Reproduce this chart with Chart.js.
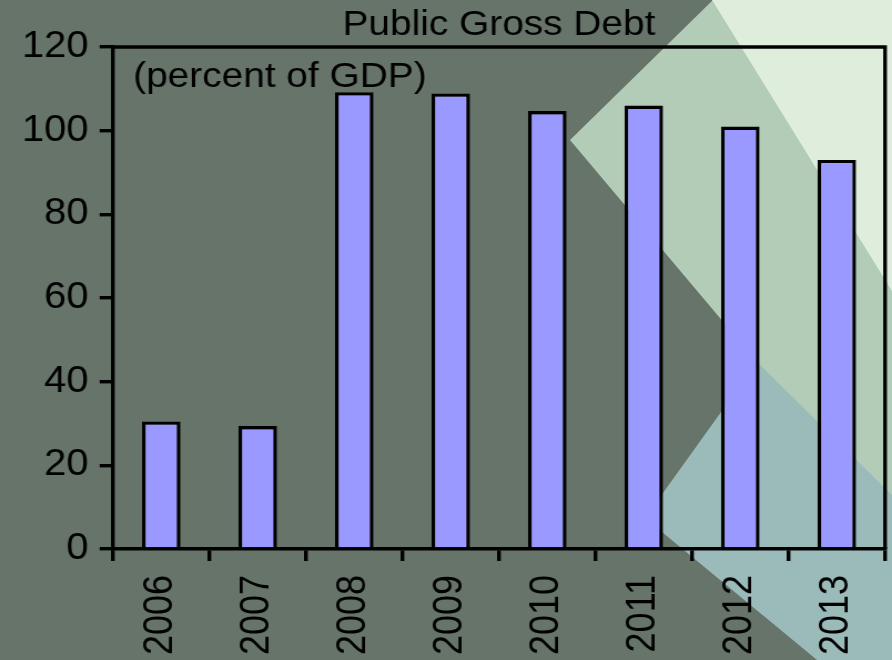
<!DOCTYPE html>
<html>
<head>
<meta charset="utf-8">
<title>Public Gross Debt</title>
<script src="https://cdn.jsdelivr.net/npm/chart.js@4.4.1/dist/chart.umd.min.js"></script>
<style>
    html, body { margin: 0; padding: 0; }
    body { width: 892px; height: 660px; overflow: hidden; position: relative; background: #66746a; }
    #bg { position: absolute; left: 0; top: 0; }
    /* chart is laid out narrower, then widened to the full page */
    .chart-wrap { position: absolute; left: 0; top: 0; width: 804px; height: 660px; transform: scaleX(1.1095); transform-origin: 0 0; }
</style>
</head>
<body>
<svg id="bg" width="892" height="660">
    <rect x="0" y="0" width="892" height="660" fill="#66746a"/>
    <polygon points="713,0 892,0 892,560 757,362 570,140" fill="#b3ccb8"/>
    <polygon points="712,0 892,0 892,291" fill="#dfeddd"/>
    <polygon points="757,362 892,495 892,660 817,660 645,518" fill="#9bbaba"/>
</svg>
<div class="chart-wrap"><canvas id="debtChart"></canvas></div>

<script>
const years = ['2006', '2007', '2008', '2009', '2010', '2011', '2012', '2013'];
const debtPct = [30.5, 29.4, 109.2, 108.9, 104.7, 106.0, 101.0, 93.0];
const yMin = 0;
const yMax = 120;
const yStep = 20;

const FONT = 'Liberation Sans, Arial, sans-serif';
const LINE_W = 3.4;

// box around the plot + the units note in its top-left corner
const framePlugin = {
    id: 'frame',
    afterDraw(chart) {
        const { ctx, chartArea } = chart;
        ctx.save();
        ctx.strokeStyle = '#000';
        ctx.lineWidth = LINE_W;
        ctx.beginPath();
        ctx.moveTo(chartArea.left, chartArea.top);
        ctx.lineTo(chartArea.right, chartArea.top);
        ctx.lineTo(chartArea.right, chartArea.bottom);
        ctx.stroke();

        ctx.fillStyle = '#000';
        ctx.font = '35px ' + FONT;
        ctx.textBaseline = 'alphabetic';
        ctx.textAlign = 'left';
        ctx.fillText('(percent of GDP)', 120, 87);
        ctx.restore();
    }
};

new Chart(document.getElementById('debtChart'), {
    type: 'bar',
    data: {
        labels: years,
        datasets: [{
            data: debtPct,
            backgroundColor: '#9999ff',
            borderColor: '#000',
            borderWidth: LINE_W,
            barPercentage: 0.4,
            categoryPercentage: 1
        }]
    },
    options: {
        responsive: true,
        maintainAspectRatio: false,
        animation: false,
        layout: { padding: { left: 0, right: 6.3, top: 0, bottom: 0 } },
        plugins: {
            legend: { display: false },
            tooltip: { enabled: false },
            title: {
                display: true,
                text: 'Public Gross Debt',
                color: '#000',
                fullSize: false,
                font: { family: FONT, size: 35, weight: 'normal' },
                padding: { top: 4, bottom: 1 }
            }
        },
        scales: {
            y: {
                min: yMin,
                max: yMax,
                afterFit(scale) { scale.width = 101.8; },
                ticks: {
                    stepSize: yStep,
                    color: '#000',
                    padding: 10,
                    font: { family: FONT, size: 36 }
                },
                grid: {
                    drawOnChartArea: false,
                    drawTicks: true,
                    tickLength: 12,
                    color: '#000',
                    lineWidth: LINE_W
                },
                border: { display: true, color: '#000', width: LINE_W }
            },
            x: {
                afterFit(scale) {
                    scale.height = 111;
                    scale.paddingLeft = 0;
                    scale.paddingRight = 0;
                },
                ticks: {
                    color: '#000',
                    minRotation: 90,
                    maxRotation: 90,
                    autoSkip: false,
                    padding: 14,
                    font: { family: FONT, size: 36 }
                },
                grid: {
                    offset: true,
                    drawOnChartArea: false,
                    drawTicks: true,
                    tickLength: 12,
                    color: '#000',
                    lineWidth: LINE_W
                },
                border: { display: true, color: '#000', width: LINE_W }
            }
        }
    },
    plugins: [framePlugin]
});
</script>
</body>
</html>
